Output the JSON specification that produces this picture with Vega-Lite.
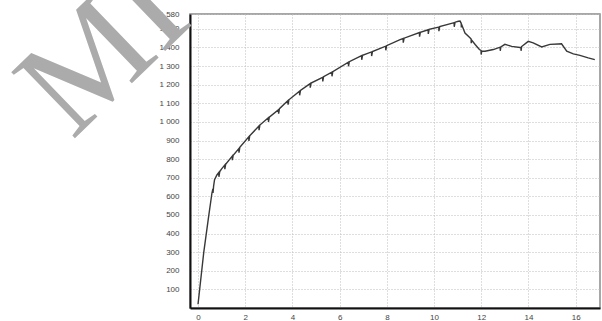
{
  "$schema": "https://vega.github.io/schema/vega-lite/v6.json",
  "width": 410,
  "height": 294,
  "autosize": {"type": "none"},
  "padding": {"left": 190, "top": 14, "right": 2, "bottom": 13},
  "background": "white",
  "config": {
    "view": {"stroke": "#8a8a8a", "strokeWidth": 1.5},
    "axis": {"labelFont": "Liberation Sans", "labelFontSize": 8, "labelColor": "#444", "labelOverlap": false}
  },
  "datasets": {
    "curve": [
      {"t": 0, "f": 20}, {"t": 0.24, "f": 296}, {"t": 0.45, "f": 492}, {"t": 0.59, "f": 618},
      {"t": 0.63, "f": 640}, {"t": 0.635, "f": 618}, {"t": 0.66, "f": 655},
      {"t": 0.7, "f": 690}, {"t": 0.8, "f": 715},
      {"t": 0.88, "f": 728}, {"t": 0.885, "f": 705}, {"t": 0.92, "f": 733},
      {"t": 1.0, "f": 748},
      {"t": 1.13, "f": 768}, {"t": 1.135, "f": 746}, {"t": 1.17, "f": 772},
      {"t": 1.45, "f": 816}, {"t": 1.455, "f": 794}, {"t": 1.49, "f": 821},
      {"t": 1.73, "f": 857}, {"t": 1.735, "f": 835}, {"t": 1.77, "f": 863},
      {"t": 2.15, "f": 920}, {"t": 2.155, "f": 898}, {"t": 2.19, "f": 925},
      {"t": 2.58, "f": 978}, {"t": 2.585, "f": 956}, {"t": 2.62, "f": 983},
      {"t": 2.98, "f": 1022}, {"t": 2.985, "f": 1000}, {"t": 3.02, "f": 1026},
      {"t": 3.41, "f": 1066}, {"t": 3.415, "f": 1044}, {"t": 3.45, "f": 1071},
      {"t": 3.81, "f": 1115}, {"t": 3.815, "f": 1093}, {"t": 3.85, "f": 1119},
      {"t": 4.3, "f": 1165}, {"t": 4.305, "f": 1143}, {"t": 4.34, "f": 1169},
      {"t": 4.75, "f": 1206}, {"t": 4.755, "f": 1184}, {"t": 4.79, "f": 1209},
      {"t": 5.28, "f": 1240}, {"t": 5.285, "f": 1218}, {"t": 5.32, "f": 1243},
      {"t": 5.67, "f": 1267}, {"t": 5.675, "f": 1245}, {"t": 5.71, "f": 1270},
      {"t": 6.37, "f": 1321}, {"t": 6.375, "f": 1299}, {"t": 6.41, "f": 1324},
      {"t": 6.93, "f": 1356}, {"t": 6.935, "f": 1334}, {"t": 6.97, "f": 1358},
      {"t": 7.35, "f": 1376}, {"t": 7.355, "f": 1354}, {"t": 7.39, "f": 1378},
      {"t": 7.95, "f": 1407}, {"t": 7.955, "f": 1385}, {"t": 7.99, "f": 1410},
      {"t": 8.56, "f": 1442},
      {"t": 8.69, "f": 1448}, {"t": 8.695, "f": 1426}, {"t": 8.73, "f": 1450},
      {"t": 9.38, "f": 1480}, {"t": 9.385, "f": 1458}, {"t": 9.42, "f": 1482},
      {"t": 9.75, "f": 1495}, {"t": 9.755, "f": 1473}, {"t": 9.79, "f": 1497},
      {"t": 10.2, "f": 1510}, {"t": 10.205, "f": 1488}, {"t": 10.24, "f": 1512},
      {"t": 10.82, "f": 1532},
      {"t": 10.85, "f": 1533}, {"t": 10.855, "f": 1511}, {"t": 10.89, "f": 1536},
      {"t": 11.03, "f": 1541}, {"t": 11.1, "f": 1542},
      {"t": 11.15, "f": 1530}, {"t": 11.155, "f": 1508}, {"t": 11.18, "f": 1520},
      {"t": 11.31, "f": 1478}, {"t": 11.52, "f": 1452},
      {"t": 11.57, "f": 1445}, {"t": 11.575, "f": 1423}, {"t": 11.6, "f": 1438},
      {"t": 11.74, "f": 1416}, {"t": 11.92, "f": 1389},
      {"t": 11.99, "f": 1384}, {"t": 11.995, "f": 1362}, {"t": 12.02, "f": 1380},
      {"t": 12.16, "f": 1380}, {"t": 12.51, "f": 1389},
      {"t": 12.8, "f": 1402}, {"t": 12.805, "f": 1382}, {"t": 12.83, "f": 1403},
      {"t": 13.0, "f": 1417}, {"t": 13.29, "f": 1406}, {"t": 13.64, "f": 1400},
      {"t": 13.68, "f": 1401}, {"t": 13.685, "f": 1382}, {"t": 13.71, "f": 1405},
      {"t": 13.99, "f": 1433}, {"t": 14.2, "f": 1425}, {"t": 14.56, "f": 1403},
      {"t": 14.91, "f": 1417}, {"t": 15.26, "f": 1419}, {"t": 15.4, "f": 1420},
      {"t": 15.62, "f": 1380}, {"t": 15.9, "f": 1366}, {"t": 16.18, "f": 1358},
      {"t": 16.53, "f": 1344}, {"t": 16.81, "f": 1335}
    ],
    "mark": [{"t": -5.34, "f": 897, "label": "MI"}]
  },
  "encoding": {
    "x": {
      "field": "t", "type": "quantitative",
      "scale": {"domain": [-0.34, 17.03], "nice": false, "zero": false},
      "axis": {
        "title": null, "values": [0, 2, 4, 6, 8, 10, 12, 14, 16],
        "grid": true, "gridColor": "#bdbdbd", "gridDash": [1, 2], "gridWidth": 1,
        "domainColor": "#111", "domainWidth": 2, "ticks": false, "labelPadding": 5,
        "labelOverlap": false
      }
    },
    "y": {
      "field": "f", "type": "quantitative",
      "scale": {"domain": [0, 1580], "nice": false},
      "axis": {
        "title": null,
        "values": [100, 200, 300, 400, 500, 600, 700, 800, 900, 1000, 1100, 1200, 1300, 1400, 1500, 1580],
        "labelExpr": "replace(format(datum.value, ','), ',', ' ')",
        "grid": true, "gridColor": "#bdbdbd", "gridDash": [1, 2], "gridWidth": 1,
        "domainColor": "#111", "domainWidth": 2, "ticks": false, "labelPadding": 11,
        "labelOverlap": false, "labelBound": false, "labelFlush": false
      }
    }
  },
  "layer": [
    {
      "data": {"name": "curve"},
      "mark": {"type": "line", "color": "#383838", "strokeWidth": 1.4, "clip": true}
    },
    {
      "data": {"name": "mark"},
      "mark": {"type": "text", "font": "Liberation Serif", "fontSize": 140, "angle": -44, "align": "left", "baseline": "alphabetic", "color": "#ababab"},
      "encoding": {"text": {"field": "label"}}
    }
  ]
}
